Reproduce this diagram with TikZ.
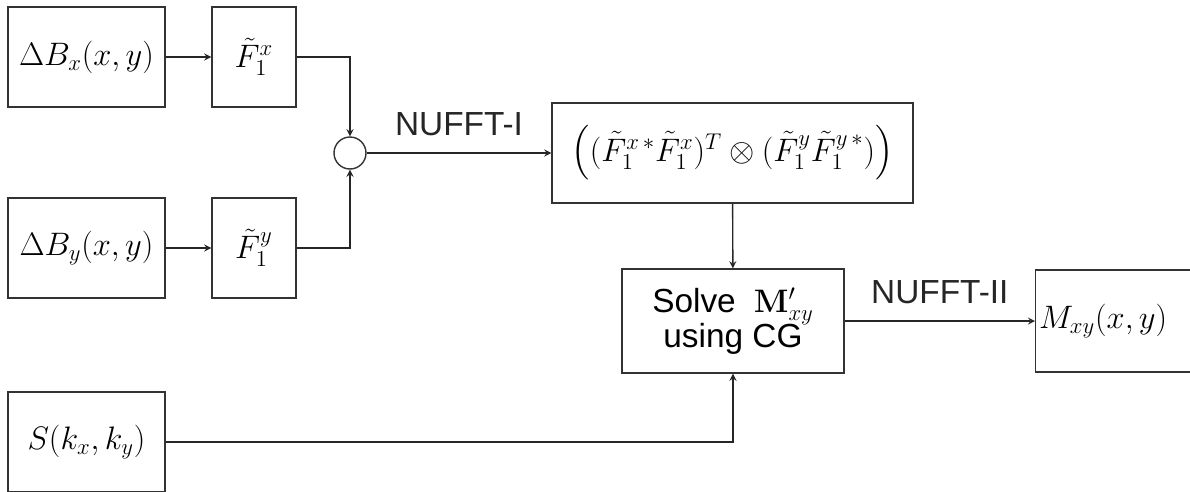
\RequirePackage{fix-cm}
\documentclass[tikz,border=0pt]{standalone}
\usepackage{amsmath}
\usepackage[no-math]{fontspec}
\setmainfont{Liberation Sans}
\begin{document}
\begin{tikzpicture}[
    x=0.02cm, y=-0.02cm,
    myblock/.style={draw=black!80, line width=0.8pt, minimum height=2cm, inner sep=2pt},
    mysum/.style={circle, draw=black!80, line width=0.8pt, minimum size=0.64cm, inner sep=0pt},
    myarrow/.style={->, >=stealth, line width=0.8pt, black!85},
    mylabel/.style={font=\fontsize{19}{22}\selectfont}
]
    \clip (0, 0) rectangle (1190, 491);
    \fontsize{18.5}{22}\selectfont

    % Inputs
    \node[myblock, minimum width=3.14cm] (dbx) at (86.5, 57) {$\Delta B_x(x,y)$};
    \node[myblock, minimum width=3.14cm] (dby) at (86.5, 248) {$\Delta B_y(x,y)$};
    \node[myblock, minimum width=3.14cm] (skxy) at (86.5, 442) {$S(k_x,k_y)$};

    % Interpolators
    \node[myblock, minimum width=1.68cm] (fx) at (254, 57) {$\tilde{F}_1^x$};
    \node[myblock, minimum width=1.68cm] (fy) at (254, 248) {$\tilde{F}_1^y$};

    % Sum
    \node[mysum] (sum) at (350, 153) {};

    % Kronecker operator
    \node[myblock, minimum width=7.22cm] (kron) at (732.5, 153)
        {$\Big((\tilde{F}_1^{x\,*}\tilde{F}_1^x)^T \otimes (\tilde{F}_1^y\tilde{F}_1^{y\,*})\Big)$};

    % Solver and output
    \node[myblock, minimum width=4.44cm, minimum height=2.08cm, align=center] (solve) at (733, 321)
        {{\fontsize{19}{22}\selectfont Solve}\ \ $\mathbf{M}'_{xy}$\\[-2pt] {\fontsize{19}{22}\selectfont using CG}};
    \node[myblock, minimum width=3.4cm, minimum height=2.04cm, anchor=west] (mxy) at (1035, 321)
        {\hspace{-0.7cm}$M_{xy}(x,y)$};

    % Connections
    \draw[myarrow] (dbx) -- (fx);
    \draw[myarrow] (dby) -- (fy);
    \draw[myarrow] (fx.east) -| (sum.north);
    \draw[myarrow] (fy.east) -| (sum.south);
    \draw[myarrow] (sum) -- node[mylabel, above=3pt] {NUFFT-I} (kron);
    \draw[myarrow] (kron) -- (solve);
    \draw[myarrow] (skxy.east) -| (solve.south);
    \draw[myarrow] (solve) -- node[mylabel, above=3pt] {NUFFT-II} (mxy);
\end{tikzpicture}
\end{document}
